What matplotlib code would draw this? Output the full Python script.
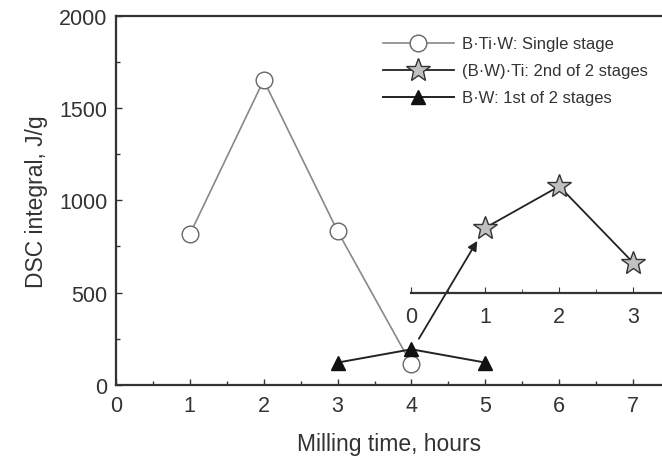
import matplotlib
matplotlib.use("Agg")
import matplotlib.pyplot as plt
from matplotlib.ticker import MultipleLocator

plt.rcParams['font.family'] = ['Liberation Sans', 'DejaVu Sans']

# Data
single_x = [1, 2, 3, 4]
single_y = [815, 1650, 833, 112]
first_x = [3, 4, 5]
first_y = [121, 193, 121]
second_x = [1, 2, 3]          # hours of 2nd stage (secondary axis)
second_y = [851, 1076, 662]
second_ticks = [0, 1, 2, 3]
xticks = [0, 1, 2, 3, 4, 5, 6, 7]
yticks = [0, 500, 1000, 1500, 2000]
labels = ["B·Ti·W: Single stage", "(B·W)·Ti: 2nd of 2 stages", "B·W: 1st of 2 stages"]
arrow_tail = (4.10, 250)
arrow_head = (4.89, 780)

fig = plt.figure(figsize=(6.62, 4.6), dpi=100)
ax = fig.add_axes([0.175, 0.161, 0.825, 0.803])
xmax = 7.39
ax.set_xlim(0, xmax)
ax.set_ylim(0, 2000)
ax.set_xticks(xticks)
ax.set_yticks(yticks)
ax.xaxis.set_minor_locator(MultipleLocator(0.5))
ax.yaxis.set_minor_locator(MultipleLocator(250))
ax.tick_params(which='both', direction='in', labelsize=15.5, width=1.0, color='#333',
               labelcolor='#333')
ax.tick_params(which='major', length=4)
ax.tick_params(which='minor', length=3)
ax.tick_params(axis='x', pad=7)
ax.tick_params(axis='y', pad=6)
ax.spines['right'].set_visible(False)
for s in ['left', 'bottom', 'top']:
    ax.spines[s].set_linewidth(1.6)
    ax.spines[s].set_color('#333')
ax.set_xlabel("Milling time, hours", fontsize=16.5, labelpad=12, color='#333')
ax.set_ylabel("DSC integral, J/g", fontsize=16.5, labelpad=8, color='#333')

l1, = ax.plot(single_x, single_y, color='#888888', lw=1.2, marker='o', ms=12,
              mfc='white', mec='#666666', mew=1.0, clip_on=False, zorder=3)
l3, = ax.plot(first_x, first_y, color='#222222', lw=1.4, marker='^', ms=10,
              mfc='#111111', mec='#111111', clip_on=False, zorder=4)

ax.annotate("", xy=arrow_head, xytext=arrow_tail,
            arrowprops=dict(arrowstyle='-|>', color='#222222', lw=1.3,
                            mutation_scale=14, shrinkA=0, shrinkB=0))

# Inset secondary axis for 2nd stage
fig.canvas.draw()
inv = fig.transFigure.inverted()
p0 = inv.transform(ax.transData.transform((4, 500)))
p1 = inv.transform(ax.transData.transform((xmax, 2000)))
ax2 = fig.add_axes([p0[0], p0[1], p1[0] - p0[0], p1[1] - p0[1]])
ax2.set_xlim(0, xmax - 4)
ax2.set_ylim(500, 2000)
ax2.patch.set_alpha(0)
for s in ['left', 'right', 'top']:
    ax2.spines[s].set_visible(False)
ax2.spines['bottom'].set_linewidth(1.6)
ax2.spines['bottom'].set_color('#333')
ax2.set_yticks([])
ax2.set_xticks(second_ticks)
ax2.xaxis.set_minor_locator(MultipleLocator(0.5))
ax2.tick_params(which='both', direction='in', labelsize=15.5, color='#333',
                labelcolor='#333', pad=10)
ax2.tick_params(which='major', length=4)
ax2.tick_params(which='minor', length=3)
l2, = ax2.plot(second_x, second_y, color='#222222', lw=1.3, marker='*', ms=18,
               mfc='#c0c0c0', mec='#333333', mew=1.0, clip_on=False, zorder=5)

leg = ax.legend([l1, l2, l3], labels, loc='upper right', bbox_to_anchor=(0.995, 0.975),
                frameon=False, fontsize=12, handlelength=4.3, labelspacing=0.72,
                handletextpad=0.45, borderaxespad=0.3)
for t in leg.get_texts():
    t.set_color('#333')

fig.savefig("out.png", dpi=100)
